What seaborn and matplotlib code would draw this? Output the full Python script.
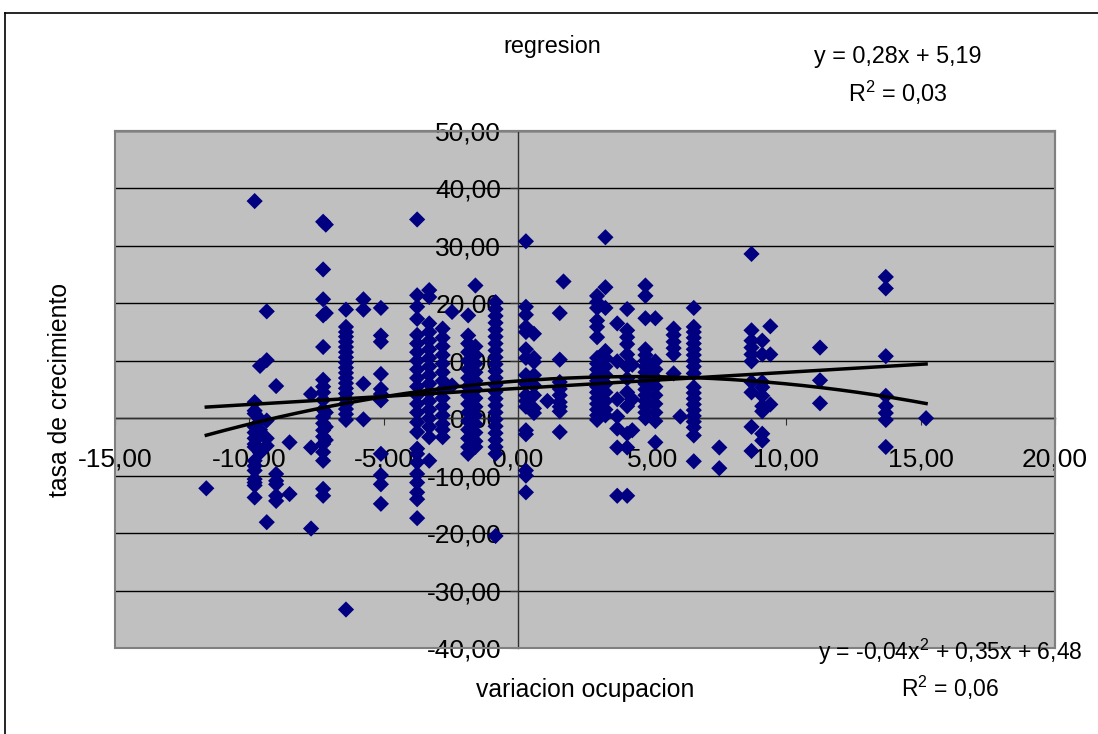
import numpy as np
import pandas as pd
import matplotlib
matplotlib.use("Agg")
import matplotlib.pyplot as plt
from matplotlib.patches import Rectangle
from matplotlib.lines import Line2D
import seaborn as sns

# ---- data ----
col_x = [-11.6, -9.8, -9.6, -9.35, -9.0, -8.5, -7.7, -7.25, -7.15, -6.4,
         -5.75, -5.1, -3.75, -3.3, -2.8, -2.45, -1.85, -1.58, -0.83, 0.3,
         0.6, 1.1, 1.56, 1.7, 2.95, 3.26, 3.7, 4.07, 4.26, 4.75,
         5.12, 5.8, 6.05, 6.55, 7.5, 8.7, 9.1, 9.4, 11.25, 13.7, 15.2]
col_y = [
    [-12.2],
    [37.8, 2.8, 1.3, 0.8, -1.5, -2.5, -3.5, -4.5, -5.0, -7.4, -8.3, -9.1, -10.6, -11.2, -11.7, -13.8],
    [9.1, -0.2, -2.0, -3.0, -6.0],
    [18.6, 10.1, -0.4, -3.5, -4.8, -18.1],
    [5.6, -9.7, -10.9, -11.5, -13.5, -14.4],
    [-4.2, -13.2],
    [4.2, -5.1, -19.2],
    [34.2, 25.9, 20.7, 17.9, 12.4, 6.7, 5.5, 4.5, 3.2, 1.5, 0.2, -0.9, -2.1, -3.2, -4.5, -5.9, -7.4, -12.3, -13.5],
    [33.7, 18.3, 1.0, -1.5, -3.8],
    [18.9, 15.9, 15.0, 14.2, 13.3, 12.4, 11.5, 10.6, 9.7, 8.8, 7.9, 7.0, 6.1, 5.2, 4.3, 3.4, 2.5, 1.6, 0.7, -0.3, -33.3],
    [20.7, 18.9, 6.0, -0.2],
    [19.2, 14.4, 13.3, 7.7, 5.1, 4.2, 3.1, -6.2, -9.9, -11.5, -14.9],
    [34.6, 21.4, 19.4, 17.3, 14.5, 13.0, 11.5, 10.0, 8.5, 7.0, 5.5, 4.0, 2.5, 1.0, -0.7, -2.4, -5.3, -6.2, -7.7, -9.7, -11.2, -12.9, -14.1, -17.4],
    [22.3, 21.1, 16.5, 15.0, 13.5, 12.0, 10.5, 9.0, 7.5, 6.0, 4.5, 3.0, 1.5, 0.0, -1.5, -3.3, -7.4],
    [15.6, 14.0, 12.5, 11.0, 9.5, 8.0, 6.5, 5.0, 3.5, 2.0, 0.5, -1.0, -2.0, -3.3],
    [18.5, 5.7],
    [17.9, 14.4, 13.0, 11.5, 10.0, 8.5, 7.0, 5.5, 4.0, 2.5, 1.0, -0.5, -2.0, -3.5, -5.0, -6.2],
    [23.1, 12.5, 11.0, 9.5, 8.0, 6.5, 5.0, 3.5, 2.0, 0.5, -1.0, -2.5, -4.0, -5.0],
    [20.2, 19.0, 17.8, 16.6, 15.4, 14.2, 13.0, 11.8, 10.6, 9.4, 8.2, 7.0, 5.8, 4.6, 3.4, 2.2, 1.0, -0.2, -1.4, -2.6, -3.8, -5.0, -6.2, -20.5],
    [30.8, 19.4, 18.0, 15.9, 15.0, 12.0, 10.5, 7.5, 6.0, 4.0, 3.0, 2.0, -2.1, -2.8, -9.1, -10.0, -12.9],
    [14.7, 10.5, 9.8, 7.5, 5.7, 4.0, 1.7, 0.9],
    [3.0],
    [18.3, 10.2, 6.3, 5.1, 4.0, 2.8, 2.0, 1.2, -2.4],
    [23.8],
    [21.3, 20.2, 19.2, 17.0, 15.9, 14.1, 10.5, 9.5, 8.5, 7.5, 6.5, 5.5, 4.5, 3.5, 2.5, 1.5, 0.5, -0.3],
    [31.5, 22.8, 19.2, 11.7, 10.5, 9.0, 7.5, 6.0, 4.5, 3.0, 1.5, 0.5],
    [16.5, 9.9, 3.3, 0.3, -1.8, -5.1, -13.5],
    [19.0, 15.3, 14.1, 12.9, 11.1, 9.0, 6.9, 4.5, 2.1, -2.7, -5.1, -13.5],
    [9.3, 3.3, -2.1],
    [23.1, 21.3, 17.4, 12.0, 11.0, 10.0, 9.0, 8.0, 7.0, 6.0, 5.0, 4.0, 3.0, 2.0, 1.0, 0.0],
    [17.4, 9.9, 8.5, 7.0, 5.5, 4.0, 2.5, 1.0, -0.5, -4.2],
    [15.6, 14.5, 13.3, 12.2, 11.1, 7.8],
    [0.3],
    [19.2, 15.9, 15.0, 14.0, 13.0, 12.0, 11.0, 10.0, 9.0, 7.8, 5.4, 4.4, 3.4, 2.4, 1.4, 0.4, -0.6, -1.6, -3.0, -7.5],
    [-5.1, -8.7],
    [28.6, 15.3, 13.5, 12.3, 11.1, 9.9, 6.3, 4.5, -1.5, -5.7],
    [13.5, 11.1, 6.3, 5.4, 3.9, 2.1, 1.2, -2.7, -3.9],
    [16.0, 11.1, 2.4],
    [12.3, 6.6, 2.6],
    [24.6, 22.6, 10.8, 3.9, 2.1, 0.9, -0.3, -5.0],
    [0.0],
]
lin_coef = [0.28, 5.19]          # y = 0,28x + 5,19
quad_coef = [-0.04, 0.35, 6.48]  # y = -0,04x² + 0,35x + 6,48
x_ticks = [-15, -10, -5, 0, 5, 10, 15, 20]
y_ticks = [-40, -30, -20, -10, 0, 10, 20, 30, 40, 50]

title_txt = "regresion"
xlabel_txt = "variacion ocupacion"
ylabel_txt = "tasa de crecimiento"
lin_txt = "y = 0,28x + 5,19"
lin_r2 = "R$^2$ = 0,03"
quad_txt = "y = -0,04x$^2$ + 0,35x + 6,48"
quad_r2 = "R$^2$ = 0,06"

# ---- build frame ----
xs, ys = [], []
for cx, cy in zip(col_x, col_y):
    xs += [cx] * len(cy)
    ys += cy
df = pd.DataFrame({"x": xs, "y": ys})

plt.rcParams['font.family'] = ['Liberation Sans', 'DejaVu Sans']
plt.rcParams['mathtext.fontset'] = 'custom'
plt.rcParams['mathtext.rm'] = 'Liberation Sans'
plt.rcParams['mathtext.it'] = 'Liberation Sans'

W, H = 1098, 734
fig = plt.figure(figsize=(W / 100, H / 100), dpi=100)
ax = fig.add_axes([115 / W, 1 - 648 / H, (1055 - 115) / W, (648 - 131) / H])
ax.set_facecolor('#C0C0C0')

sns.scatterplot(data=df, x="x", y="y", marker="D", color="#000080",
                edgecolor="none", s=68, ax=ax, zorder=3, legend=False)

xmin, xmax = df["x"].min(), df["x"].max()
xl = np.linspace(xmin, xmax, 200)
sns.lineplot(x=xl, y=np.polyval(lin_coef, xl), color="black", lw=2.5, ax=ax, zorder=4)
sns.lineplot(x=xl, y=np.polyval(quad_coef, xl), color="black", lw=2.5, ax=ax, zorder=4)

ax.set_xlim(-15, 20)
ax.set_ylim(-40, 50)
ax.set_xticks(x_ticks)
ax.set_yticks(y_ticks)
fmt = lambda v: f"{v:.2f}".replace('.', ',')
ax.set_xticklabels([fmt(v) for v in x_ticks])
ax.set_yticklabels([fmt(v) for v in y_ticks])
ax.set_xlabel("")
ax.set_ylabel("")

ax.yaxis.grid(True, color='black', linewidth=1.0, zorder=0)
ax.xaxis.grid(False)
ax.set_axisbelow(True)

ax.spines['left'].set_position(('data', 0))
ax.spines['bottom'].set_position(('data', 0))
for s in ['left', 'bottom']:
    ax.spines[s].set_color('#303030')
    ax.spines[s].set_linewidth(1.0)
    ax.spines[s].set_zorder(2)
for s in ['top', 'right']:
    ax.spines[s].set_color('#808080')
    ax.spines[s].set_linewidth(1.5)
ax.add_patch(Rectangle((0, 0), 1, 1, transform=ax.transAxes, fill=False,
                       edgecolor='#808080', lw=1.5, zorder=5, clip_on=False))

ax.tick_params(axis='x', direction='out', length=5, pad=16, labelsize=19,
               color='#303030')
ax.tick_params(axis='y', direction='out', length=6, pad=6, labelsize=19,
               color='#303030')

fig.text(552 / W, 1 - 47 / H, title_txt, ha='center', va='center', fontsize=16.8)
fig.text(898 / W, 1 - 57 / H, lin_txt, ha='center', va='center', fontsize=16.8)
fig.text(898 / W, 1 - 93 / H, lin_r2, ha='center', va='center', fontsize=16.8)
fig.text(950 / W, 1 - 652 / H, quad_txt, ha='center', va='center', fontsize=16.5)
fig.text(950 / W, 1 - 688 / H, quad_r2, ha='center', va='center', fontsize=16.5)
fig.text(585 / W, 1 - 690 / H, xlabel_txt, ha='center', va='center', fontsize=17.8)
fig.text(60 / W, 1 - 390 / H, ylabel_txt, ha='center', va='center', fontsize=17.8,
         rotation=90)

# outer chart frame (top and left visible)
fig.add_artist(Line2D([5 / W, 1.0], [1 - 13 / H, 1 - 13 / H], color='black', lw=1.2))
fig.add_artist(Line2D([5 / W, 5 / W], [0.0, 1 - 13 / H], color='black', lw=1.2))

fig.savefig("out.png", dpi=100)
